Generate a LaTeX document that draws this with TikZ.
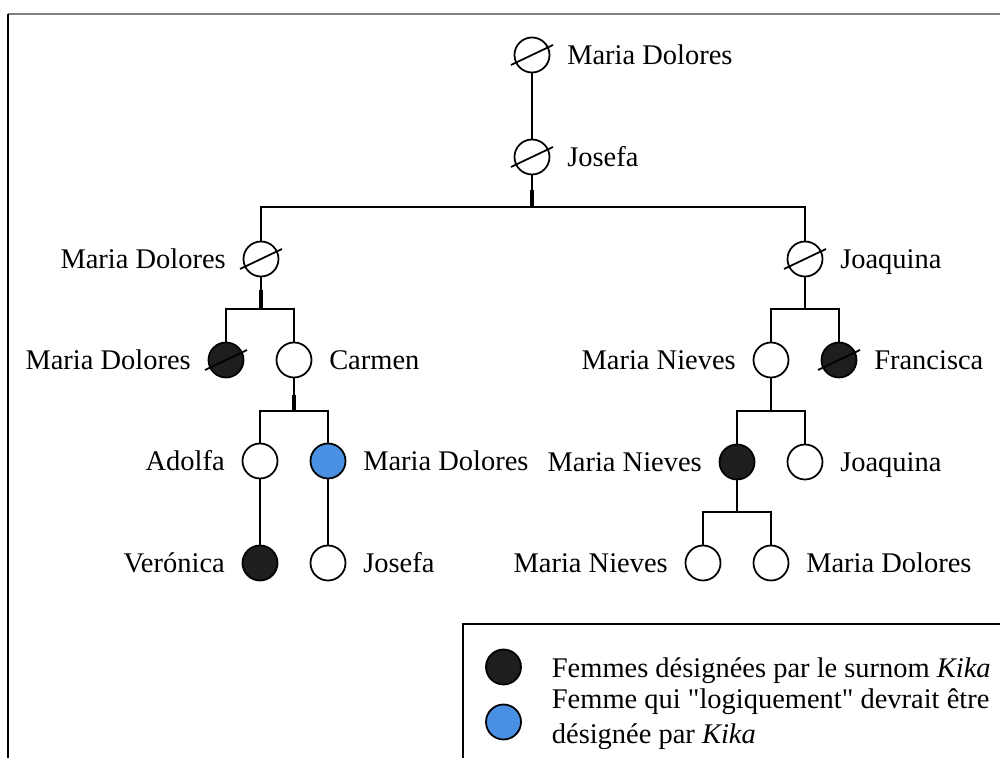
\documentclass[tikz,border=0pt]{standalone}
\usepackage{fontspec}
\setmainfont{Liberation Serif}
\usepackage{xcolor}
\usetikzlibrary{positioning}
\definecolor{kikablue}{RGB}{74,144,226}
\definecolor{kikablack}{RGB}{30,30,30}

\begin{document}
\begin{tikzpicture}[font=\fontsize{16.2}{21.6}\selectfont, line width=1pt]

\tikzstyle{pers} = [circle, draw, minimum size=0.7cm, inner sep=0pt, fill=white]
\tikzstyle{kika} = [pers, fill=kikablack]
\tikzstyle{logi} = [pers, fill=kikablue]
\tikzstyle{who} = [inner sep=0pt, text height=11pt, text depth=0pt]
\tikzstyle{legtext} = [inner sep=0pt, anchor=base west]
\tikzstyle{stub} = [line width=2pt]

\useasboundingbox (0,0) rectangle (20,15.16);

% frame
\draw[gray] (0.16,14.88) -- (20,14.88);
\draw (0.16,14.88) -- (0.16,0);

\node[pers] (md0) at (10.64,14.06) {};
\node[pers] (jo1) at (10.64,12.02) {};

\node[pers] (md2) at (5.22,9.98) {};
\node[pers] (joa2) at (16.10,9.98) {};

\node[kika] (md3) at (4.52,7.96) {};
\node[pers] (car3) at (5.88,7.96) {};
\node[pers] (mn3) at (15.42,7.96) {};
\node[kika] (fra3) at (16.78,7.96) {};

\node[pers] (ado4) at (5.20,5.94) {};
\node[logi] (mdb4) at (6.56,5.94) {};
\node[kika] (mn4) at (14.74,5.92) {};
\node[pers] (joa4) at (16.10,5.92) {};

\node[kika] (ver5) at (5.20,3.90) {};
\node[pers] (jos5) at (6.56,3.90) {};
\node[pers] (mn5) at (14.06,3.90) {};
\node[pers] (md5) at (15.42,3.90) {};

\node[who, right=0.32cm of md0] (tmd0) {Maria Dolores};
\node[who, right=0.32cm of jo1] (tjo1) {Josefa};
\node[who, left=0.32cm of md2] (tmd2) {Maria Dolores};
\node[who, right=0.32cm of joa2] (tjoa2) {Joaquina};
\node[who, left=0.32cm of md3] (tmd3) {Maria Dolores};
\node[who, right=0.32cm of car3] (tcar3) {Carmen};
\node[who, left=0.32cm of mn3] (tmn3) {Maria Nieves};
\node[who, right=0.32cm of fra3] (tfra3) {Francisca};
\node[who, left=0.32cm of ado4] (tado4) {Adolfa};
\node[who, right=0.32cm of mdb4] (tmdb4) {Maria Dolores};
\node[who, left=0.32cm of mn4] (tmn4) {Maria Nieves};
\node[who, right=0.32cm of joa4] (tjoa4) {Joaquina};
\node[who, left=0.32cm of ver5] (tver5) {Verónica};
\node[who, right=0.32cm of jos5] (tjos5) {Josefa};
\node[who, left=0.32cm of mn5] (tmn5) {Maria Nieves};
\node[who, right=0.32cm of md5] (tmd5) {Maria Dolores};

\coordinate (b1) at (10.64,11.02);
\coordinate (b2) at (5.22,8.98);
\coordinate (b3) at (5.88,6.94);
\coordinate (b4) at (16.10,8.98);
\coordinate (b5) at (15.42,6.94);
\coordinate (b6) at (14.74,4.92);

\draw (md0) -- (jo1);
\draw (jo1) -- (b1);
\draw[stub] (b1) -- ++(0,0.34);
\draw (md2) |- (b1) -| (joa2);

\draw (md2) -- (b2);
\draw[stub] (b2) -- ++(0,0.38);
\draw (md3) |- (b2) -| (car3);

\draw (car3) -- (b3);
\draw[stub] (b3) -- ++(0,0.32);
\draw (ado4) |- (b3) -| (mdb4);
\draw (ado4) -- (ver5);
\draw (mdb4) -- (jos5);

\draw (joa2) -- (b4);
\draw (mn3) |- (b4) -| (fra3);
\draw (mn3) -- (b5);
\draw (mn4) |- (b5) -| (joa4);
\draw (mn4) -- (b6);
\draw (mn5) |- (b6) -| (md5);

\foreach \n in {md0,jo1,md2,joa2,md3,fra3}
  \draw (\n.center) ++(-0.42,-0.2) -- ++(0.84,0.4);

% legend
\draw (20,2.68) -- (9.26,2.68) -- (9.26,0);
\node[kika] (leg1) at (10.07,1.82) {};
\node[logi] (leg2) at (10.07,0.72) {};
\node[legtext] (tleg1) at (11.02,1.60) {Femmes désignées par le surnom \textit{Kika}};
\node[legtext] (tleg2) at (11.02,0.99) {Femme qui \textquotedbl logiquement\textquotedbl{} devrait être};
\node[legtext] (tleg3) at (11.02,0.28) {désignée par \textit{Kika}};

\end{tikzpicture}
\end{document}
